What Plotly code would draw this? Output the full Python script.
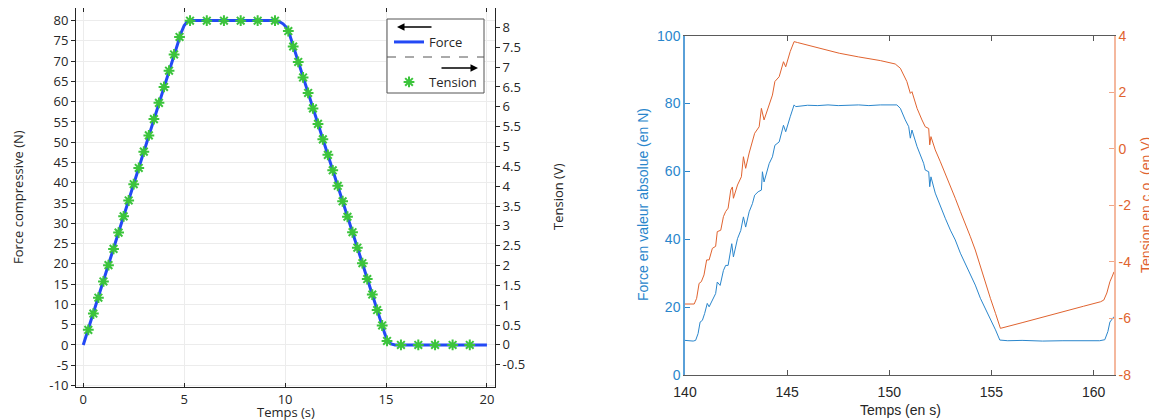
import plotly.graph_objects as go

# ---------------- Left chart data ----------------
force_t = [0, 4.6, 4.85, 5.0, 5.15, 5.35, 9.45, 9.7, 9.9, 10.05, 10.2, 14.95, 15.1, 15.25, 15.45, 20]
force_n = [0, 73.3, 77.0, 78.8, 79.7, 80.0, 80.0, 79.8, 79.2, 78.4, 76.9, 2.6, 0.9, 0.25, 0, 0]

tension_t = [0.25, 0.50, 0.75, 1.00, 1.25, 1.50, 1.75, 2.00, 2.25, 2.50, 2.75, 3.00, 3.25, 3.50,
             3.75, 4.00, 4.25, 4.50, 4.77,
             5.29, 6.12, 6.97, 7.80, 8.64, 9.50,
             10.16, 10.40, 10.65, 10.89, 11.14, 11.38, 11.63, 11.87, 12.12, 12.36, 12.61, 12.85,
             13.09, 13.34, 13.58, 13.83, 14.07, 14.32, 14.56, 14.81, 15.05,
             15.74, 16.60, 17.43, 18.30, 19.15]
tension_v = [0.38, 0.79, 1.19, 1.60, 2.01, 2.42, 2.83, 3.24, 3.64, 4.05, 4.46, 4.87, 5.28, 5.69,
             6.10, 6.50, 6.91, 7.32, 7.76,
             8.17, 8.17, 8.17, 8.17, 8.17, 8.17,
             7.91, 7.52, 7.13, 6.74, 6.35, 5.96, 5.57, 5.18, 4.79, 4.40, 4.01, 3.62,
             3.23, 2.84, 2.45, 2.06, 1.66, 1.27, 0.88, 0.49, 0.10,
             0, 0, 0, 0, 0]

left_y_ticks = list(range(-10, 81, 5))
left_y_text = [str(v) for v in left_y_ticks]
left_y2_ticks = [-0.5, 0, 0.5, 1, 1.5, 2, 2.5, 3, 3.5, 4, 4.5, 5, 5.5, 6, 6.5, 7, 7.5, 8]
left_y2_text = ["-0.5", "0", "0.5", "1", "1.5", "2", "2.5", "3", "3.5", "4", "4.5", "5",
                "5.5", "6", "6.5", "7", "7.5", "8"]

# ---------------- Right chart data ----------------
abs_t = [140.00, 140.20, 140.40, 140.52, 140.64, 140.74, 140.85, 140.96, 141.09, 141.18, 141.39,
         141.50, 141.58, 141.72, 141.88, 141.99, 142.11, 142.24, 142.29, 142.37, 142.57, 142.73,
         142.86, 142.97, 143.14, 143.30, 143.41, 143.58, 143.74, 143.79, 143.87, 144.12, 144.28,
         144.40, 144.61, 144.82, 144.93, 145.15, 145.34, 145.42, 145.64, 146.0, 146.5, 147.0,
         147.5, 148.0, 148.5, 149.0, 149.56, 150.37, 150.54, 150.78, 150.95, 151.03, 151.11,
         151.36, 151.52, 151.68, 151.76, 151.93, 151.98, 152.04, 152.25, 152.50, 152.74, 152.99,
         153.23, 153.48, 153.72, 153.97, 154.21, 154.46, 154.70, 154.95, 155.20, 155.41, 155.8,
         156.5, 157.5, 158.5, 159.5, 160.3, 160.55, 160.70, 160.80, 160.90, 161.00]
abs_force = [10.2, 10.1, 10.0, 10.2, 12.2, 15.6, 16.1, 18.1, 21.1, 20.1, 23.0,
             24.0, 27.4, 26.4, 30.8, 32.3, 32.3, 36.7, 38.7, 34.8, 40.2, 42.6,
             46.6, 43.6, 48.1, 50.5, 53.0, 54.0, 54.5, 59.9, 56.9, 62.3, 64.3,
             67.7, 68.7, 73.6, 71.7, 76.1, 79.6, 79.1, 79.3, 79.5, 79.4, 79.6,
             79.4, 79.5, 79.6, 79.4, 79.6, 79.6, 78.6, 75.2, 73.2, 69.8, 72.2,
             67.3, 64.8, 62.4, 60.4, 59.9, 55.5, 58.4, 53.6, 49.6, 46.2, 42.7,
             39.8, 35.9, 32.9, 29.5, 26.5, 22.6, 19.7, 16.7, 13.3, 10.3, 10.1,
             10.2, 10.0, 10.1, 10.0, 10.1, 10.4, 12.8, 15.6, 16.4, 17.2]

oc_t = [140.00, 140.45, 140.57, 140.69, 140.80, 140.93, 141.06, 141.18, 141.34, 141.50, 141.58,
        141.75, 141.88, 141.99, 142.11, 142.24, 142.32, 142.37, 142.57, 142.76, 142.86, 142.97,
        143.14, 143.30, 143.41, 143.63, 143.74, 143.87, 144.12, 144.28, 144.40, 144.61, 144.82,
        144.93, 145.15, 145.34, 145.50, 146.5, 147.55, 148.5, 149.56, 150.29, 150.54, 150.86,
        151.03, 151.11, 151.36, 151.60, 151.76, 151.93, 151.98, 152.04, 152.25, 152.50, 152.74,
        152.99, 153.23, 153.48, 153.72, 153.97, 154.21, 154.46, 154.70, 154.95, 155.20, 155.44,
        156.5, 157.5, 158.5, 159.5, 160.34, 160.50, 160.65, 160.80, 160.92, 161.00]
oc_v = [-5.49, -5.49, -5.29, -4.76, -4.70, -4.46, -3.93, -3.93, -3.52, -3.45, -2.93,
        -2.88, -2.40, -2.22, -2.10, -1.46, -1.35, -1.75, -1.28, -0.99, -0.28, -0.69,
        -0.15, 0.31, 0.55, 0.78, 1.43, 1.02, 1.61, 1.90, 2.38, 2.55, 3.08,
        2.90, 3.44, 3.79, 3.76, 3.58, 3.38, 3.25, 3.12, 3.00, 2.85, 2.38,
        1.96, 2.02, 1.43, 1.02, 0.78, 0.72, 0.14, 0.43, -0.04, -0.46, -0.87,
        -1.34, -1.75, -2.22, -2.63, -3.11, -3.58, -4.17, -4.76, -5.29, -5.82, -6.35,
        -6.15, -5.95, -5.75, -5.57, -5.41, -5.35, -5.10, -4.70, -4.50, -4.35]

right_y4_ticks = [-8, -6, -4, -2, 0, 2, 4]
right_y4_text = ["-8", "-6", "-4", "-2", "0", "2", "4"]

# ---------------- Styling ----------------
W, H = 1157, 420
OFF = 8  # page body margin


def px(x):
    return (x - OFF) / W


def py(y):
    return 1 - (y - OFF) / H


LFONT = "Open Sans"
RFONT = "Liberation Sans"
DARK = "#262626"
BLUE_L = "#2349f5"
GREEN = "#3cc43c"
MBLUE = "#2a86cc"
MORANGE = "#e0632f"

fig = go.Figure()

fig.add_trace(go.Scatter(x=force_t, y=force_n, mode="lines", name="Force",
                         line=dict(color=BLUE_L, width=3), xaxis="x", yaxis="y",
                         legend="legend"))
fig.add_trace(go.Scatter(x=tension_t, y=tension_v, mode="markers", name="Tension",
                         marker=dict(symbol="asterisk", size=9,
                                     line=dict(color=GREEN, width=2), color=GREEN),
                         xaxis="x", yaxis="y2", legend="legend2"))
fig.add_trace(go.Scatter(x=abs_t, y=abs_force, mode="lines", name="Force absolue",
                         line=dict(color=MBLUE, width=1), xaxis="x2", yaxis="y3",
                         showlegend=False))
fig.add_trace(go.Scatter(x=oc_t, y=oc_v, mode="lines", name="Tension c.o.",
                         line=dict(color=MORANGE, width=1), xaxis="x2", yaxis="y4",
                         showlegend=False))


def title_ann(text, x, y, family, size, color, angle=0):
    return dict(xref="paper", yref="paper", x=px(x), y=py(y), text=text, showarrow=False,
                textangle=angle, xanchor="center", yanchor="middle",
                font=dict(family=family, size=size, color=color))


fig.update_layout(
    width=W, height=H,
    margin=dict(l=0, r=0, t=0, b=0),
    paper_bgcolor="white", plot_bgcolor="white",
    font=dict(family=LFONT, size=13, color=DARK),
    xaxis=dict(domain=[px(76), px(495)], range=[-0.36, 20.4], anchor="y",
               tickvals=[0, 5, 10, 15, 20], ticks="inside", ticklen=4, tickcolor=DARK,
               showline=True, linecolor=DARK, linewidth=1, mirror="ticks",
               showgrid=True, gridcolor="#ececec", zeroline=False,
               tickfont=dict(family=LFONT, size=13, color=DARK),
               automargin=False),
    yaxis=dict(domain=[py(387), py(8)], range=[-10.36, 83.1], anchor="x",
               tickvals=left_y_ticks, ticktext=left_y_text, ticks="outside", ticklen=4,
               tickcolor=DARK,
               showline=True, linecolor=DARK, linewidth=1,
               showgrid=True, gridcolor="#ececec", zeroline=False,
               tickfont=dict(family=LFONT, size=13, color=DARK),
               automargin=False),
    yaxis2=dict(overlaying="y", side="right", anchor="x", range=[-1.06, 8.49],
                tickvals=left_y2_ticks, ticktext=left_y2_text, ticks="outside", ticklen=4,
                tickcolor=DARK,
                showline=True, linecolor=DARK, linewidth=1, showgrid=False, zeroline=False,
                tickfont=dict(family=LFONT, size=13, color=DARK),
                automargin=False),
    xaxis2=dict(domain=[px(685), px(1114)], range=[140, 161], anchor="y3",
                tickvals=[140, 145, 150, 155, 160], ticks="inside", ticklen=5,
                tickcolor="#555555", ticklabelstandoff=4,
                showline=True, linecolor="#5a5a5a", linewidth=1, mirror="ticks",
                showgrid=False, zeroline=False,
                tickfont=dict(family=RFONT, size=14, color=DARK),
                automargin=False),
    yaxis3=dict(domain=[py(375), py(35.7)], range=[0, 100], anchor="x2",
                tickvals=[0, 20, 40, 60, 80, 100], ticks="inside", ticklen=5, tickcolor=MBLUE,
                showline=True, linecolor="#5aa0d8", linewidth=1.5, showgrid=False, zeroline=False,
                tickfont=dict(family=RFONT, size=14, color=MBLUE),
                automargin=False),
    yaxis4=dict(overlaying="y3", side="right", anchor="x2", range=[-8, 4],
                tickvals=right_y4_ticks, ticktext=right_y4_text, ticks="inside", ticklen=5,
                tickcolor="#f0a585",
                showline=True, linecolor="#f4b89e", linewidth=1.5, showgrid=False, zeroline=False,
                tickfont=dict(family=RFONT, size=14, color=MORANGE),
                automargin=False),
    legend=dict(x=px(389), y=py(42), xanchor="left", yanchor="middle",
                bgcolor="rgba(0,0,0,0)", borderwidth=0,
                font=dict(family=LFONT, size=13, color=DARK)),
    legend2=dict(x=px(389), y=py(82), xanchor="left", yanchor="middle",
                 bgcolor="rgba(0,0,0,0)", borderwidth=0,
                 font=dict(family=LFONT, size=13, color=DARK)),
    shapes=[
        dict(type="rect", xref="paper", yref="paper", x0=px(387), x1=px(484), y0=py(93), y1=py(19),
             line=dict(color="#555555", width=1), fillcolor="white", layer="above"),
        dict(type="line", xref="paper", yref="paper", x0=px(387), x1=px(484), y0=py(57), y1=py(57),
             line=dict(color="#555555", width=1, dash="dash"), layer="above"),
    ],
    annotations=[
        dict(xref="paper", yref="paper", x=px(397), y=py(27), text="", showarrow=True,
             axref="pixel", ayref="pixel", ax=36, ay=0, arrowhead=2, arrowsize=1,
             arrowwidth=1.5, arrowcolor="black"),
        dict(xref="paper", yref="paper", x=px(478), y=py(68), text="", showarrow=True,
             axref="pixel", ayref="pixel", ax=-38, ay=0, arrowhead=2, arrowsize=1,
             arrowwidth=1.5, arrowcolor="black"),
        title_ann("Force compressive (N)", 18, 197, LFONT, 13, DARK, -90),
        title_ann("Temps (s)", 286, 412, LFONT, 13, DARK),
        title_ann("Tension (V)", 558, 197, LFONT, 13, DARK, -90),
        title_ann("Temps (en s)", 900, 410, RFONT, 14, DARK),
        title_ann("Force en valeur absolue (en N)", 643, 205, RFONT, 14, MBLUE, -90),
        title_ann("Tension en c.o. (en V)", 1146, 205, RFONT, 14, MORANGE, -90),
    ],
)

fig.write_html("out.html")
